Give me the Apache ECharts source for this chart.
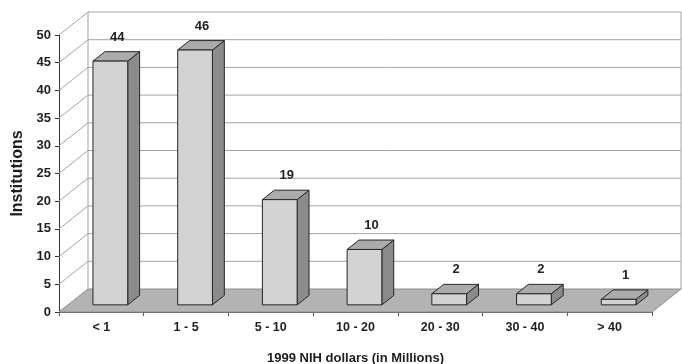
<!DOCTYPE html>
<html>
<head>
<meta charset="utf-8">
<script src="https://cdn.jsdelivr.net/npm/echarts@6/dist/echarts.min.js"></script>
<style>
  html, body { margin: 0; padding: 0; background: #fff; }
  #chart { width: 682px; height: 364px; }
</style>
</head>
<body>
<div id="chart"></div>
<script>
// Funding brackets (1999 NIH dollars, millions) and institution counts
const categories = ['< 1', '1 - 5', '5 - 10', '10 - 20', '20 - 30', '30 - 40', '> 40'];
const institutions = [44, 46, 19, 10, 2, 2, 1];
const yTicks = [0, 5, 10, 15, 20, 25, 30, 35, 40, 45, 50];

// Pseudo-3D geometry: how far the back wall sits behind the front plane (px)
const DEPTH = [29, -23];
const BAR_FRONT = 0.31;   // bar front face, as a fraction of the depth
const BAR_BACK = 0.72;    // bar back face
const BAR_WIDTH = 0.41;   // fraction of the category band
const FONT = '"Liberation Sans", Arial, sans-serif';

// Floor, back wall and side wall grid lines, one item per y tick
function renderFrame(params, api) {
  const v = api.value(1);
  const band = api.size([1, 0])[0];
  const p0 = api.coord([0, v]);
  const pN = api.coord([categories.length - 1, v]);
  const left = p0[0] - band / 2;
  const right = pN[0] + band / 2;
  const y = p0[1];
  const bl = [left + DEPTH[0], y + DEPTH[1]];
  const br = [right + DEPTH[0], y + DEPTH[1]];
  const grid = { stroke: '#a3a3a3', lineWidth: 1 };
  const children = [];
  if (params.dataIndex === 0) {
    const topY = api.coord([0, yTicks[yTicks.length - 1]])[1] + DEPTH[1];
    children.push({
      type: 'polygon',
      shape: { points: [[left, y], [right, y], br, bl] },
      style: { fill: '#b3b3b3', stroke: '#8c8c8c', lineWidth: 1 }
    });
    children.push({ type: 'line', shape: { x1: bl[0], y1: bl[1], x2: bl[0], y2: topY }, style: grid });
    children.push({ type: 'line', shape: { x1: br[0], y1: br[1], x2: br[0], y2: topY }, style: grid });
  } else {
    children.push({ type: 'line', shape: { x1: left, y1: y, x2: bl[0], y2: bl[1] }, style: grid });
    children.push({ type: 'line', shape: { x1: bl[0], y1: bl[1], x2: br[0], y2: br[1] }, style: grid });
  }
  return { type: 'group', children: children };
}

// A shaded box per bracket, with its count written above it
function renderBar(params, api) {
  const i = api.value(0);
  const v = api.value(1);
  const band = api.size([1, 0])[0];
  const base = api.coord([i, 0]);
  const top = api.coord([i, v]);
  const hw = band * BAR_WIDTH / 2;
  const fx = DEPTH[0] * BAR_FRONT, fy = DEPTH[1] * BAR_FRONT;
  const dx = DEPTH[0] * (BAR_BACK - BAR_FRONT), dy = DEPTH[1] * (BAR_BACK - BAR_FRONT);
  const x0 = base[0] - hw + fx, x1 = base[0] + hw + fx;
  const yb = base[1] + fy, yt = top[1] + fy;
  const edge = { stroke: '#262626', lineWidth: 1, lineJoin: 'round' };
  return {
    type: 'group',
    children: [
      {
        type: 'polygon',
        shape: { points: [[x1, yt], [x1 + dx, yt + dy], [x1 + dx, yb + dy], [x1, yb]] },
        style: Object.assign({ fill: '#8b8b8b' }, edge)
      },
      {
        type: 'polygon',
        shape: { points: [[x0, yt], [x1, yt], [x1 + dx, yt + dy], [x0 + dx, yt + dy]] },
        style: Object.assign({ fill: '#ababab' }, edge)
      },
      {
        type: 'rect',
        shape: { x: x0, y: yt, width: x1 - x0, height: yb - yt },
        style: Object.assign({ fill: '#d3d3d3' }, edge)
      },
      {
        type: 'text',
        x: base[0] + fx + 7,
        y: yt - 24,
        style: {
          text: String(v),
          fill: '#222',
          font: 'bold 13px ' + FONT,
          align: 'center',
          verticalAlign: 'middle'
        }
      }
    ]
  };
}

const chart = echarts.init(document.getElementById('chart'), null, { renderer: 'canvas' });
chart.setOption({
  backgroundColor: '#ffffff',
  animation: false,
  grid: { left: 59, right: 30, top: 35, bottom: 52, containLabel: false, outerBoundsMode: 'none' },
  xAxis: {
    type: 'category',
    data: categories,
    name: '1999 NIH dollars (in Millions)',
    nameLocation: 'middle',
    nameGap: 40,
    nameTextStyle: { fontFamily: FONT, fontWeight: 'bold', fontSize: 13, color: '#1e1e1e' },
    axisLine: { lineStyle: { color: '#555', width: 1 } },
    axisTick: { show: true, length: 4, lineStyle: { color: '#555' } },
    axisLabel: { fontFamily: FONT, fontWeight: 'bold', fontSize: 12.5, color: '#1e1e1e', margin: 9 },
    splitLine: { show: false }
  },
  yAxis: {
    type: 'value',
    min: 0,
    max: 50,
    interval: 5,
    name: 'Institutions',
    nameLocation: 'middle',
    nameGap: 31,
    nameTextStyle: { fontFamily: FONT, fontWeight: 'bold', fontSize: 16, color: '#1e1e1e' },
    axisLine: { show: true, lineStyle: { color: '#333', width: 1 } },
    axisTick: { show: true, length: 4, lineStyle: { color: '#333' } },
    axisLabel: { fontFamily: FONT, fontWeight: 'bold', fontSize: 13, color: '#1e1e1e', margin: 8 },
    splitLine: { show: false }
  },
  series: [
    {
      type: 'custom',
      name: 'frame',
      z: 1,
      silent: true,
      encode: { x: 0, y: 1 },
      data: yTicks.map(function (t) { return [0, t]; }),
      renderItem: renderFrame
    },
    {
      type: 'custom',
      name: 'Institutions',
      z: 3,
      encode: { x: 0, y: 1 },
      data: institutions.map(function (n, i) { return [i, n]; }),
      renderItem: renderBar
    }
  ]
});
</script>
</body>
</html>
